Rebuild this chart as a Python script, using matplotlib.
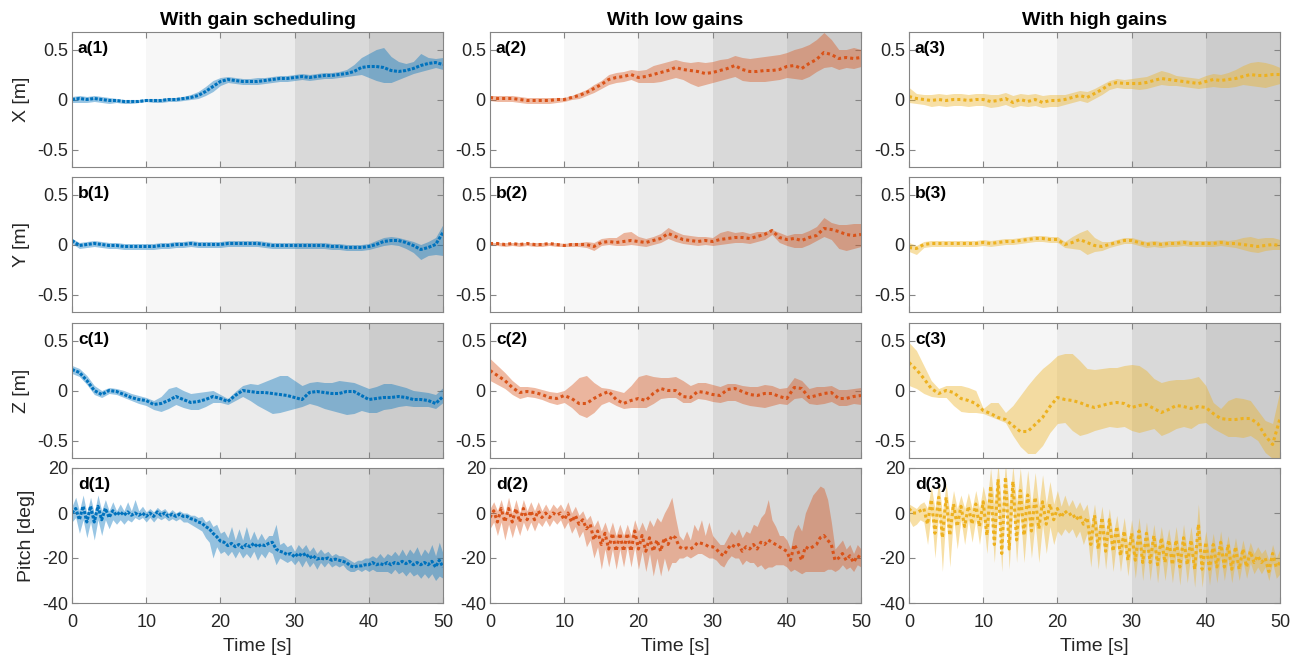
import numpy as np
import matplotlib
matplotlib.use("Agg")
import matplotlib.pyplot as plt

plt.rcParams['font.family'] = ['Liberation Sans', 'DejaVu Sans']
plt.rcParams['axes.unicode_minus'] = False

# --- data (X/Y/Z every 1 s, pitch every 0.5 s) ---
t_xyz = np.arange(0, 51)
t_pitch = np.arange(0, 101) * 0.5

col_titles = ['With gain scheduling', 'With low gains', 'With high gains']
row_labels = ['X [m]', 'Y [m]', 'Z [m]', 'Pitch [deg]']
row_letters = ['a', 'b', 'c', 'd']

# X
x_sched = [0.00, 0.01, 0.00, 0.01, 0.00, -0.01, -0.01, -0.02, -0.02, -0.02, -0.01,
           -0.01, -0.01, 0.00, 0.00, 0.01, 0.02, 0.04, 0.08, 0.13, 0.18,
           0.20, 0.19, 0.18, 0.18, 0.18, 0.19, 0.20, 0.21, 0.21, 0.22,
           0.23, 0.22, 0.23, 0.24, 0.24, 0.25, 0.26, 0.28, 0.32, 0.33,
           0.33, 0.32, 0.29, 0.28, 0.29, 0.31, 0.34, 0.36, 0.37, 0.35]
x_sched_hi = [0.03, 0.04, 0.03, 0.04, 0.03, 0.02, 0.01, 0.00, 0.00, 0.00, 0.01,
              0.01, 0.01, 0.02, 0.02, 0.03, 0.05, 0.08, 0.13, 0.19, 0.22,
              0.23, 0.22, 0.21, 0.21, 0.22, 0.22, 0.23, 0.24, 0.24, 0.25,
              0.26, 0.25, 0.26, 0.27, 0.27, 0.28, 0.30, 0.35, 0.42, 0.46,
              0.50, 0.52, 0.43, 0.38, 0.36, 0.38, 0.46, 0.42, 0.41, 0.42]
x_sched_lo = [-0.03, -0.03, -0.03, -0.02, -0.03, -0.04, -0.03, -0.04, -0.04, -0.03, -0.02,
              -0.03, -0.03, -0.02, -0.02, -0.01, 0.00, 0.01, 0.04, 0.08, 0.14,
              0.17, 0.16, 0.15, 0.15, 0.15, 0.16, 0.17, 0.18, 0.18, 0.19,
              0.20, 0.19, 0.20, 0.21, 0.21, 0.22, 0.23, 0.24, 0.25, 0.22,
              0.19, 0.17, 0.17, 0.20, 0.23, 0.26, 0.28, 0.30, 0.32, 0.30]

x_low = [0.02, 0.01, 0.01, 0.01, 0.00, -0.01, -0.01, -0.01, -0.01, 0.00, 0.00,
         0.02, 0.04, 0.07, 0.11, 0.15, 0.20, 0.22, 0.23, 0.25, 0.22,
         0.23, 0.25, 0.27, 0.29, 0.32, 0.30, 0.29, 0.28, 0.26, 0.27,
         0.29, 0.31, 0.34, 0.30, 0.28, 0.28, 0.29, 0.29, 0.30, 0.33,
         0.34, 0.31, 0.36, 0.40, 0.47, 0.45, 0.41, 0.42, 0.41, 0.42]
x_low_hi = [0.04, 0.04, 0.04, 0.04, 0.03, 0.02, 0.02, 0.02, 0.02, 0.02, 0.02,
            0.04, 0.07, 0.10, 0.15, 0.19, 0.25, 0.27, 0.28, 0.30, 0.29,
            0.30, 0.34, 0.36, 0.38, 0.40, 0.38, 0.37, 0.38, 0.37, 0.38,
            0.40, 0.41, 0.44, 0.42, 0.41, 0.42, 0.43, 0.44, 0.45, 0.47,
            0.50, 0.52, 0.55, 0.60, 0.67, 0.60, 0.50, 0.50, 0.52, 0.50]
x_low_lo = [-0.01, -0.02, -0.02, -0.02, -0.03, -0.04, -0.04, -0.04, -0.04, -0.03, -0.02,
            0.00, 0.01, 0.04, 0.07, 0.11, 0.15, 0.17, 0.18, 0.20, 0.17,
            0.17, 0.17, 0.18, 0.20, 0.22, 0.20, 0.16, 0.13, 0.15, 0.17,
            0.19, 0.21, 0.23, 0.19, 0.18, 0.18, 0.18, 0.19, 0.20, 0.22,
            0.21, 0.20, 0.23, 0.28, 0.32, 0.33, 0.30, 0.32, 0.31, 0.33]

x_high = [0.03, 0.01, 0.00, -0.01, 0.00, -0.01, 0.00, 0.00, -0.01, 0.00, 0.00,
          -0.02, -0.01, 0.01, -0.03, 0.00, -0.02, 0.00, -0.03, -0.01, -0.01,
          0.00, 0.02, 0.04, 0.02, 0.06, 0.10, 0.15, 0.17, 0.16, 0.16,
          0.16, 0.17, 0.19, 0.21, 0.20, 0.19, 0.18, 0.17, 0.16, 0.18,
          0.20, 0.19, 0.20, 0.21, 0.23, 0.25, 0.24, 0.24, 0.25, 0.25]
x_high_hi = [0.12, 0.06, 0.05, 0.05, 0.06, 0.05, 0.06, 0.06, 0.05, 0.06, 0.06,
             0.05, 0.05, 0.07, 0.04, 0.06, 0.05, 0.06, 0.04, 0.05, 0.05,
             0.05, 0.07, 0.09, 0.08, 0.11, 0.15, 0.19, 0.21, 0.20, 0.21,
             0.22, 0.23, 0.26, 0.29, 0.27, 0.24, 0.23, 0.22, 0.21, 0.24,
             0.26, 0.25, 0.27, 0.30, 0.34, 0.37, 0.38, 0.37, 0.35, 0.32]
x_high_lo = [-0.03, -0.04, -0.05, -0.07, -0.06, -0.07, -0.06, -0.06, -0.07, -0.06, -0.06,
             -0.08, -0.07, -0.05, -0.08, -0.06, -0.07, -0.06, -0.08, -0.07, -0.07,
             -0.05, -0.03, -0.01, -0.03, 0.01, 0.05, 0.10, 0.12, 0.11, 0.11,
             0.10, 0.11, 0.13, 0.15, 0.14, 0.14, 0.13, 0.12, 0.11, 0.12,
             0.13, 0.12, 0.12, 0.13, 0.15, 0.14, 0.13, 0.12, 0.14, 0.16]

# Y
y_sched = [0.04, -0.01, 0.00, 0.01, 0.00, -0.01, -0.01, -0.02, -0.02, -0.02, -0.02,
           -0.02, -0.01, -0.01, 0.00, 0.00, 0.01, 0.00, 0.00, 0.00, 0.00,
           0.01, 0.01, 0.01, 0.01, 0.01, 0.00, -0.01, -0.01, -0.01, -0.01,
           -0.01, -0.01, -0.01, -0.01, -0.02, -0.02, -0.03, -0.03, -0.03, -0.02,
           0.00, 0.03, 0.04, 0.04, 0.02, -0.01, -0.05, -0.03, 0.00, 0.12]
y_sched_hi = [0.06, 0.02, 0.03, 0.04, 0.03, 0.02, 0.02, 0.01, 0.01, 0.01, 0.01,
              0.01, 0.02, 0.02, 0.03, 0.03, 0.04, 0.03, 0.03, 0.03, 0.03,
              0.04, 0.04, 0.04, 0.04, 0.04, 0.03, 0.02, 0.02, 0.02, 0.02,
              0.02, 0.02, 0.02, 0.02, 0.01, 0.01, 0.00, 0.00, 0.00, 0.01,
              0.04, 0.07, 0.08, 0.07, 0.05, 0.03, 0.00, 0.03, 0.07, 0.20]
y_sched_lo = [0.01, -0.04, -0.03, -0.02, -0.03, -0.04, -0.04, -0.05, -0.05, -0.05, -0.05,
              -0.05, -0.04, -0.04, -0.03, -0.03, -0.02, -0.03, -0.03, -0.03, -0.03,
              -0.02, -0.02, -0.02, -0.02, -0.02, -0.03, -0.04, -0.04, -0.04, -0.04,
              -0.04, -0.04, -0.04, -0.04, -0.05, -0.05, -0.06, -0.06, -0.06, -0.05,
              -0.03, -0.01, 0.00, -0.01, -0.04, -0.08, -0.15, -0.11, -0.10, -0.11]

y_low = [0.01, 0.01, 0.00, 0.01, 0.00, 0.01, 0.00, 0.00, 0.01, 0.00, -0.01,
         0.00, 0.00, 0.00, -0.02, 0.02, 0.03, 0.02, 0.03, 0.04, 0.03,
         0.02, 0.04, 0.06, 0.11, 0.08, 0.05, 0.04, 0.03, 0.04, 0.03,
         0.05, 0.06, 0.07, 0.07, 0.06, 0.08, 0.10, 0.14, 0.07, 0.05,
         0.06, 0.04, 0.07, 0.09, 0.16, 0.15, 0.13, 0.10, 0.09, 0.10]
y_low_hi = [0.02, 0.02, 0.02, 0.02, 0.02, 0.02, 0.02, 0.02, 0.02, 0.02, 0.01,
            0.02, 0.02, 0.03, 0.02, 0.06, 0.07, 0.07, 0.12, 0.13, 0.08,
            0.06, 0.08, 0.11, 0.17, 0.13, 0.10, 0.09, 0.08, 0.08, 0.07,
            0.12, 0.14, 0.12, 0.13, 0.11, 0.13, 0.13, 0.15, 0.12, 0.09,
            0.11, 0.11, 0.14, 0.18, 0.27, 0.22, 0.20, 0.20, 0.21, 0.21]
y_low_lo = [0.00, -0.01, -0.02, -0.01, -0.02, -0.01, -0.02, -0.02, -0.01, -0.02, -0.02,
            -0.02, -0.02, -0.03, -0.06, -0.01, 0.00, -0.01, -0.01, 0.00, -0.01,
            -0.02, 0.00, 0.02, 0.06, 0.03, 0.01, 0.00, -0.01, 0.00, -0.01,
            0.00, 0.01, 0.02, 0.02, 0.01, 0.03, 0.05, 0.10, 0.02, -0.01,
            -0.03, -0.03, 0.00, 0.04, 0.08, 0.05, -0.04, -0.06, -0.04, -0.02]

y_high = [-0.03, -0.04, 0.00, 0.01, 0.01, 0.01, 0.01, 0.01, 0.01, 0.01, 0.02,
          0.01, 0.02, 0.03, 0.03, 0.04, 0.05, 0.06, 0.06, 0.05, 0.05,
          0.00, 0.02, 0.05, 0.02, -0.01, -0.02, 0.00, 0.02, 0.04, 0.04,
          0.02, 0.00, 0.01, 0.00, 0.01, 0.01, 0.02, 0.01, 0.01, 0.01,
          0.01, 0.02, 0.01, 0.01, 0.00, -0.01, -0.02, -0.01, 0.00, -0.01]
y_high_hi = [0.02, -0.01, 0.03, 0.04, 0.04, 0.04, 0.04, 0.04, 0.04, 0.04, 0.05,
             0.04, 0.05, 0.06, 0.06, 0.07, 0.08, 0.09, 0.09, 0.08, 0.08,
             0.03, 0.08, 0.12, 0.15, 0.07, 0.03, 0.03, 0.05, 0.07, 0.07,
             0.05, 0.03, 0.04, 0.03, 0.04, 0.04, 0.05, 0.04, 0.04, 0.04,
             0.04, 0.05, 0.04, 0.05, 0.07, 0.08, 0.06, 0.07, 0.07, 0.05]
y_high_lo = [-0.07, -0.10, -0.03, -0.02, -0.02, -0.02, -0.02, -0.02, -0.02, -0.02, -0.01,
             -0.02, -0.01, 0.00, 0.00, 0.01, 0.02, 0.03, 0.03, 0.02, 0.02,
             -0.03, -0.04, -0.05, -0.10, -0.07, -0.06, -0.03, -0.01, 0.01, 0.01,
             -0.01, -0.03, -0.02, -0.03, -0.02, -0.02, -0.01, -0.02, -0.02, -0.02,
             -0.02, -0.01, -0.02, -0.03, -0.05, -0.07, -0.08, -0.06, -0.05, -0.05]

# Z
z_sched = [0.21, 0.18, 0.10, 0.00, -0.04, 0.00, -0.01, -0.04, -0.07, -0.09, -0.10,
           -0.14, -0.13, -0.10, -0.06, -0.09, -0.12, -0.11, -0.09, -0.06, -0.08,
           -0.11, -0.05, 0.00, -0.01, -0.02, -0.02, -0.03, -0.04, -0.05, -0.07,
           -0.09, -0.02, -0.01, -0.02, -0.03, -0.03, -0.01, -0.01, -0.05, -0.09,
           -0.08, -0.07, -0.07, -0.06, -0.07, -0.09, -0.09, -0.10, -0.13, -0.06]
z_sched_hi = [0.25, 0.22, 0.15, 0.05, 0.00, 0.03, 0.02, 0.00, -0.03, -0.05, -0.07,
              -0.10, -0.06, 0.02, 0.04, 0.00, -0.03, -0.02, -0.01, 0.00, -0.04,
              -0.08, -0.01, 0.05, 0.07, 0.06, 0.09, 0.12, 0.15, 0.15, 0.10,
              0.05, 0.08, 0.09, 0.08, 0.08, 0.10, 0.09, 0.08, 0.05, 0.02,
              0.04, 0.07, 0.07, 0.05, 0.03, 0.00, -0.01, -0.02, -0.04, 0.03]
z_sched_lo = [0.17, 0.14, 0.06, -0.04, -0.07, -0.03, -0.04, -0.07, -0.10, -0.13, -0.15,
              -0.19, -0.21, -0.18, -0.14, -0.17, -0.19, -0.19, -0.16, -0.12, -0.12,
              -0.14, -0.10, -0.06, -0.10, -0.15, -0.19, -0.23, -0.22, -0.20, -0.18,
              -0.16, -0.13, -0.15, -0.18, -0.20, -0.22, -0.24, -0.23, -0.20, -0.22,
              -0.22, -0.19, -0.18, -0.16, -0.15, -0.16, -0.16, -0.16, -0.18, -0.12]

z_low = [0.20, 0.15, 0.10, 0.03, -0.02, -0.01, -0.02, -0.04, -0.07, -0.08, -0.05,
         -0.08, -0.13, -0.13, -0.08, -0.04, -0.01, -0.09, -0.13, -0.10, -0.08,
         -0.10, -0.03, 0.02, 0.00, 0.00, -0.06, -0.07, -0.01, -0.02, -0.04,
         -0.05, 0.01, 0.02, -0.01, -0.04, -0.05, -0.03, -0.03, -0.06, -0.08,
         0.03, 0.02, -0.07, -0.05, -0.03, -0.02, -0.08, -0.08, -0.06, -0.05]
z_low_hi = [0.32, 0.25, 0.18, 0.10, 0.04, 0.04, 0.03, 0.01, -0.01, -0.02, 0.00,
            0.06, 0.13, 0.15, 0.08, 0.03, 0.02, 0.00, -0.02, 0.05, 0.14,
            0.16, 0.14, 0.13, 0.13, 0.14, 0.10, 0.05, 0.08, 0.08, 0.06,
            0.04, 0.07, 0.07, 0.05, 0.04, 0.04, 0.06, 0.05, 0.02, 0.03,
            0.13, 0.10, 0.02, 0.04, 0.04, 0.05, 0.01, 0.01, 0.02, 0.03]
z_low_lo = [0.10, 0.06, 0.02, -0.04, -0.08, -0.06, -0.07, -0.09, -0.12, -0.14, -0.12,
            -0.17, -0.24, -0.27, -0.22, -0.14, -0.11, -0.15, -0.18, -0.17, -0.17,
            -0.17, -0.13, -0.08, -0.07, -0.07, -0.12, -0.12, -0.08, -0.09, -0.11,
            -0.12, -0.10, -0.10, -0.13, -0.15, -0.16, -0.17, -0.15, -0.13, -0.14,
            -0.08, -0.07, -0.13, -0.14, -0.13, -0.11, -0.15, -0.15, -0.13, -0.14]

z_high = [0.28, 0.21, 0.12, 0.02, -0.03, 0.00, -0.02, -0.08, -0.10, -0.13, -0.20,
          -0.23, -0.27, -0.29, -0.35, -0.41, -0.41, -0.34, -0.27, -0.16, -0.07,
          -0.09, -0.10, -0.12, -0.15, -0.17, -0.15, -0.13, -0.12, -0.13, -0.17,
          -0.15, -0.14, -0.18, -0.22, -0.19, -0.15, -0.16, -0.18, -0.16, -0.17,
          -0.23, -0.28, -0.29, -0.29, -0.28, -0.28, -0.33, -0.45, -0.54, -0.28]
z_high_hi = [0.48, 0.40, 0.25, 0.10, 0.02, 0.05, 0.05, 0.05, 0.03, 0.00, -0.18,
             -0.12, -0.12, -0.22, -0.15, -0.05, 0.05, 0.14, 0.22, 0.28, 0.35,
             0.37, 0.37, 0.30, 0.22, 0.21, 0.22, 0.23, 0.23, 0.25, 0.26,
             0.25, 0.20, 0.12, 0.08, 0.10, 0.11, 0.11, 0.12, 0.14, 0.05,
             -0.12, -0.18, -0.10, -0.07, -0.08, -0.10, -0.20, -0.30, -0.33, 0.00]
z_high_lo = [0.05, 0.02, -0.03, -0.06, -0.07, -0.07, -0.15, -0.21, -0.22, -0.22, -0.23,
             -0.26, -0.29, -0.32, -0.45, -0.56, -0.63, -0.63, -0.55, -0.42, -0.33,
             -0.32, -0.40, -0.45, -0.43, -0.40, -0.38, -0.36, -0.37, -0.36, -0.40,
             -0.42, -0.40, -0.38, -0.45, -0.42, -0.38, -0.36, -0.38, -0.33, -0.32,
             -0.38, -0.42, -0.46, -0.46, -0.47, -0.45, -0.50, -0.62, -0.68, -0.68]

# Pitch
p_sched = [0, 2, -3, 3, -4, 3, -4, 3, -3, 2, -2, 1, -1, 0.5, -1, 0.5, -1, 0, -1, 0, -1.5,
           0, -1.5, 0.5, -1, 0, -1.5, -0.5, -1.5, -0.5, -1.5, -1.5, -2.5, -3, -4, -4.5, -6, -7, -9, -10.5, -12.5,
           -13, -14.5, -13.5, -15, -14, -15.5, -14, -15, -13.5, -15, -14, -14.5, -13.5, -13, -16, -17, -17.5, -18.5, -18, -19.5,
           -18, -19, -18, -20, -19, -20.5, -20, -20.5, -20, -21, -20.5, -21, -21.5, -22, -23.5, -24, -23.5, -23.5, -23, -23,
           -22, -23, -22.5, -23, -22, -23, -22, -22.5, -21.5, -22.5, -21.5, -23, -22, -23, -22, -23, -21.5, -24, -21, -24]
p_sched_hi = [3, 7, 1, 8, 0, 7, 0, 8, 1, 6, 1, 5, 1, 4, 1, 5, 1, 6, 1, 3, 0.5,
              2, 0.5, 2.5, 1, 2, 0, 1.5, 0, 1, 0, 0, -1, -1, -2, -1.5, -4, -3, -6, -5, -9,
              -8, -11, -6, -12, -7, -12, -6, -12, -8, -12, -9, -12, -10, -10, -5, -14, -13, -15, -14, -17,
              -14, -16, -14, -17, -15, -18, -16, -18, -17, -19, -18, -19, -19, -20, -21, -22, -21, -21, -20, -20,
              -19, -20, -18, -20, -18, -19, -17, -19, -16, -19, -16, -18, -15, -19, -16, -18, -14, -19, -13, -18]
p_sched_lo = [-4, -2, -9, -3, -11, -4, -12, -3, -10, -3, -7, -3, -5, -3, -5, -3, -4, -2, -3, -2, -4,
              -2, -4, -2, -3, -2, -3.5, -2.5, -3.5, -2.5, -4, -4, -5, -6, -7, -8, -11, -13, -20, -15, -18,
              -17, -19, -17, -20, -17, -20, -18, -20, -17, -21, -18, -20, -17, -18, -23, -20, -21, -22, -21, -23,
              -21, -24, -21, -24, -22, -25, -22, -24, -22, -24, -23, -24, -23, -25, -26, -26, -25, -26, -25, -26,
              -25, -26, -26, -26, -26, -27, -25, -27, -26, -28, -26, -28, -27, -29, -27, -29, -27, -30, -28, -29]

p_low = [-2, 1, -4, 2, -4, 2, -4, 2, -4, 2, -3, 1, -3, 1, -2, 0, -2, 0, -1, 0, -3,
         0, -4, -1, -5, -3, -7, -5, -12, -8, -14, -9, -16, -9, -17, -9, -17, -9, -17, -8, -16,
         -10, -17, -11, -17, -12, -17, -11, -14, -10, -11, -15, -16, -15.5, -16, -15, -13, -13.5, -14, -15, -15,
         -16, -18, -19, -16, -14, -15, -14, -17, -15, -16, -14, -16, -13, -14, -12, -13, -14, -15, -16, -17,
         -21, -14, -17, -21, -15, -16, -15, -14, -11, -10, -12, -14, -21, -20, -18, -21, -19, -22, -19, -20]
p_low_hi = [2, 5, 1, 6, 0, 7, 0, 6, 0, 6, 1, 5, 1, 5, 1, 4, 1, 4, 2, 4, 1,
            5, 0, 3, -1, 1, -3, -1, -6, -3, -8, -4, -9, -4, -10, -5, -10, -5, -10, -3, -8,
            -4, -8, -3, -6, -2, -4, 0, 3, 7, -2, -10, -12, -8, -12, -5, -8, -3, -10, -4, -10,
            -12, -14, -14, -11, -8, -10, -7, -11, -8, -9, -5, -6, -2, 0, 6, -3, -6, -10, -10, -12,
            -16, -8, -5, -8, 0, 4, 8, 10, 12, 11, 6, -4, -16, -14, -12, -16, -14, -18, -14, -16]
p_low_lo = [-7, -4, -10, -4, -12, -5, -11, -5, -10, -4, -8, -4, -8, -4, -6, -3, -6, -3, -5, -3, -7,
            -4, -9, -6, -11, -8, -15, -12, -20, -15, -25, -16, -24, -16, -25, -16, -24, -15, -24, -15, -25,
            -17, -26, -18, -28, -20, -28, -20, -26, -22, -22, -20, -20, -19, -20, -19, -18, -18, -19, -20, -20,
            -21, -23, -24, -21, -19, -20, -20, -23, -21, -22, -22, -24, -23, -25, -24, -24, -23, -23, -23, -24,
            -26, -25, -26, -27, -26, -26, -26, -26, -26, -26, -25, -25, -26, -25, -23, -25, -24, -26, -23, -24]

p_high = [2, 0, 0, 1, 2, -5, 6, -9, 7, -11, 7, -10, 4, -6, 3, -6, 3, -5, 4, -6, 5,
          -10, 12, -14, 15, -18, 16, -16, 14, -12, 10, -10, 8, -8, 7, -7, 5, -5, 4, -3, 2,
          -2, 1, -1, 0, -3, -1, -5, -2, -14, -1, -16, -2, -17, -3, -17, -6, -19, -8, -21, -9,
          -21, -8, -22, -9, -22, -10, -23, -11, -22, -12, -23, -12, -24, -11, -23, -12, -25, -5, -25, -13,
          -25, -14, -24, -13, -24, -14, -25, -15, -25, -16, -24, -17, -22, -19, -22, -20, -26, -18, -24, -22]
p_high_hi = [4, 3, 2, 4, 5, 2, 12, 2, 14, 0, 13, 0, 10, 2, 8, 2, 9, 2, 10, 2, 12,
             4, 20, 4, 22, 2, 22, 3, 21, 4, 20, 3, 19, 3, 18, 3, 17, 4, 14, 4, 10,
             3, 8, 3, 6, 2, 5, 1, 4, -6, 4, -8, 3, -9, 2, -10, -1, -12, -2, -14, -3,
             -15, -2, -16, -4, -16, -5, -17, -6, -16, -7, -17, -6, -18, -5, -17, -6, -18, 4, -18, -8,
             -19, -9, -19, -8, -19, -10, -20, -11, -20, -12, -19, -13, -18, -15, -18, -16, -21, -14, -20, -16]
p_high_lo = [-3, -6, -5, -3, -4, -14, 0, -20, 0, -26, 0, -24, -2, -16, -3, -14, -3, -13, -3, -14, -2,
             -18, 2, -22, 4, -26, 6, -25, 4, -22, 0, -22, -2, -20, -4, -22, -5, -18, -6, -14, -8,
             -10, -7, -9, -7, -11, -8, -14, -9, -24, -8, -25, -9, -25, -10, -26, -12, -26, -14, -28, -15,
             -29, -14, -30, -15, -30, -16, -31, -17, -30, -18, -31, -18, -32, -17, -31, -18, -33, -14, -33, -19,
             -32, -20, -31, -19, -30, -20, -31, -21, -30, -21, -29, -22, -27, -24, -27, -24, -30, -22, -29, -27]

# --- layout / style ---
colors = ['#0072BD', '#D95319', '#EDB120']
dash = [(0, (1, 0.5)), (0, (1, 1)), (0, (1, 1))]
phase_edges = [0, 10, 20, 30, 40, 50]
phase_colors = ['#ffffff', '#f7f7f7', '#ebebeb', '#d9d9d9', '#cccccc']

panels = [
    [(x_sched, x_sched_lo, x_sched_hi), (x_low, x_low_lo, x_low_hi), (x_high, x_high_lo, x_high_hi)],
    [(y_sched, y_sched_lo, y_sched_hi), (y_low, y_low_lo, y_low_hi), (y_high, y_high_lo, y_high_hi)],
    [(z_sched, z_sched_lo, z_sched_hi), (z_low, z_low_lo, z_low_hi), (z_high, z_high_lo, z_high_hi)],
    [(p_sched, p_sched_lo, p_sched_hi), (p_low, p_low_lo, p_low_hi), (p_high, p_high_lo, p_high_hi)],
]

W, H = 1299, 658
fig = plt.figure(figsize=(W / 100, H / 100), dpi=100)

col_left = [72, 490, 909]
ax_w = 371
row_top = [32, 177, 323, 468]
ax_h = 135
spine_gray = '#858585'
text_gray = '#262626'

for r in range(4):
    for c in range(3):
        ax = fig.add_axes([col_left[c] / W, 1 - (row_top[r] + ax_h) / H, ax_w / W, ax_h / H])
        for k in range(5):
            ax.axvspan(phase_edges[k], phase_edges[k + 1], color=phase_colors[k], lw=0, zorder=0)

        mean, lo, hi = panels[r][c]
        t = t_pitch if r == 3 else t_xyz
        ax.fill_between(t, lo, hi, color=colors[c], alpha=0.4, lw=0, zorder=2)
        ax.plot(t, mean, color=colors[c], lw=2.2, linestyle=dash[c], zorder=3)

        ax.set_xlim(0, 50)
        ax.set_xticks([0, 10, 20, 30, 40, 50])
        if r == 3:
            ax.set_ylim(-40, 20)
            ax.set_yticks([-40, -20, 0, 20])
            ax.set_yticklabels(['-40', '-20', '0', '20'])
        else:
            ax.set_ylim(-0.675, 0.675)
            ax.set_yticks([-0.5, 0, 0.5])
            ax.set_yticklabels(['-0.5', '0', '0.5'])

        ax.tick_params(direction='in', top=True, right=True, length=4, width=0.8,
                       color=spine_gray, labelcolor=text_gray, labelsize=13, pad=3)
        ax.tick_params(axis='x', pad=8)
        for s in ax.spines.values():
            s.set_color(spine_gray)
            s.set_linewidth(0.8)
            s.set_zorder(5)

        if r == 3:
            ax.set_xlabel('Time [s]', fontsize=14, color=text_gray, labelpad=5)
        else:
            ax.set_xticklabels([])
        if c == 0:
            ax.set_ylabel(row_labels[r], fontsize=14, color=text_gray, labelpad=5)
        if r == 0:
            ax.set_title(col_titles[c], fontsize=14, fontweight='bold', pad=5)

        ax.text(0.016, 0.875, f'{row_letters[r]}({c + 1})', transform=ax.transAxes,
                fontsize=12.5, fontweight='bold', va='center', ha='left', zorder=6)

fig.savefig('out.png', dpi=100)
